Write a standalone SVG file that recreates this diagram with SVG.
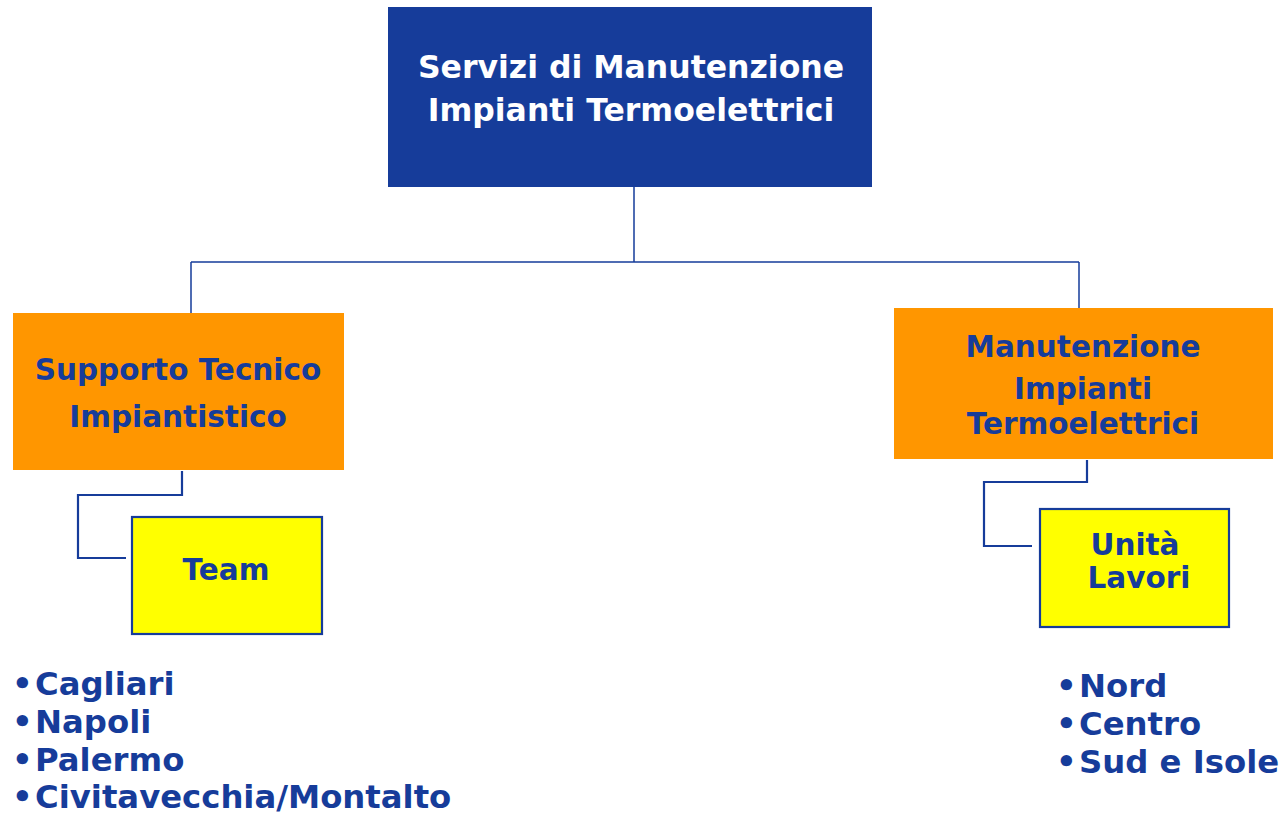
<svg xmlns="http://www.w3.org/2000/svg" width="1285" height="815" viewBox="0 0 1285 815">
<style>
text{font-family:"DejaVu Sans",Verdana,sans-serif;font-weight:bold;}
.t{fill:#163C9A;font-size:29.5px;text-anchor:middle;}
.w{fill:#ffffff;font-size:31.5px;text-anchor:middle;}
.l{fill:#163C9A;font-size:32.3px;}
.c{fill:none;stroke:#163C9A;stroke-width:1.5;}
.c2{fill:none;stroke:#163C9A;stroke-width:2.2;}
.o{fill:#FF9600;}
.y{fill:#FFFF00;stroke:#163C9A;stroke-width:2.2;}
</style>
<rect width="1285" height="815" fill="#ffffff"/>
<g id="connectors">
<path class="c" d="M634,187 V262 M191,262 H1079 M191,262 V313 M1079,262 V308"/>
<path class="c2" d="M182,471 V495 H78 V558 H126"/>
<path class="c2" d="M1087,460 V482 H984 V546 H1032"/>
</g>
<g id="root">
<rect x="388" y="7" width="484" height="180" fill="#163C9A"/>
<text class="w" x="631" y="78">Servizi di Manutenzione</text>
<text class="w" x="631" y="121">Impianti Termoelettrici</text>
</g>
<g id="supporto">
<rect class="o" x="13" y="313" width="331" height="157"/>
<text class="t" x="178" y="380">Supporto Tecnico</text>
<text class="t" x="178" y="427">Impiantistico</text>
</g>
<g id="manutenzione">
<rect class="o" x="894" y="308" width="379" height="151"/>
<text class="t" x="1083" y="357">Manutenzione</text>
<text class="t" x="1083" y="399">Impianti</text>
<text class="t" x="1083" y="434">Termoelettrici</text>
</g>
<g id="team">
<rect class="y" x="132" y="517" width="190" height="117"/>
<text class="t" x="226" y="580">Team</text>
</g>
<g id="unita">
<rect class="y" x="1040" y="509" width="189" height="118"/>
<text class="t" x="1135" y="555">Unità</text>
<text class="t" x="1139" y="588">Lavori</text>
</g>
<g id="list-team">
<text class="l" y="695"><tspan x="12">•</tspan><tspan x="35">Cagliari</tspan></text>
<text class="l" y="733"><tspan x="12">•</tspan><tspan x="35">Napoli</tspan></text>
<text class="l" y="771"><tspan x="12">•</tspan><tspan x="35">Palermo</tspan></text>
<text class="l" y="808"><tspan x="12">•</tspan><tspan x="35">Civitavecchia/Montalto</tspan></text>
</g>
<g id="list-unita">
<text class="l" y="697"><tspan x="1056">•</tspan><tspan x="1079">Nord</tspan></text>
<text class="l" y="735"><tspan x="1056">•</tspan><tspan x="1079">Centro</tspan></text>
<text class="l" y="773"><tspan x="1056">•</tspan><tspan x="1079">Sud e Isole</tspan></text>
</g>
</svg>
